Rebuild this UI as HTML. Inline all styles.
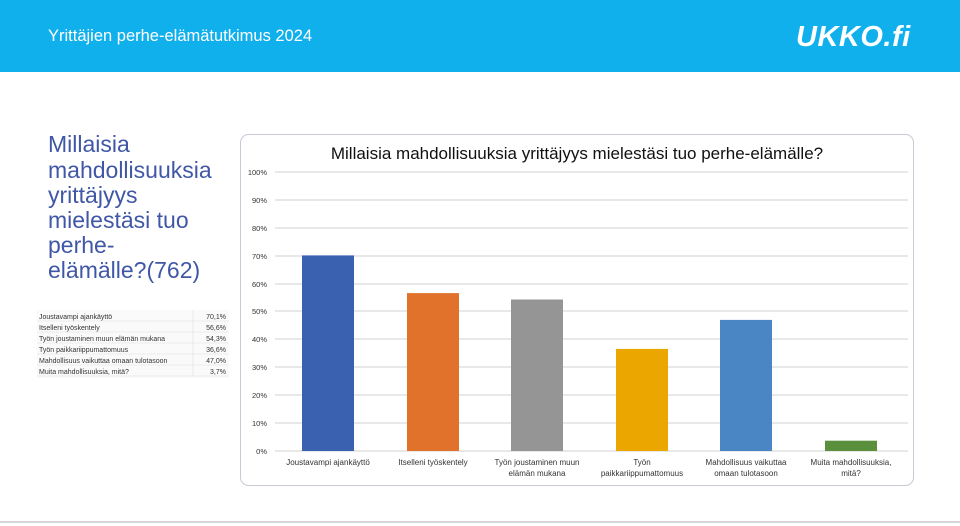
<!DOCTYPE html>
<html><head><meta charset="utf-8"><style>
html,body{margin:0;padding:0;background:#fff;}
svg{display:block;font-family:"Liberation Sans",sans-serif;}
</style></head><body>
<svg width="960" height="526" viewBox="0 0 960 526" xmlns="http://www.w3.org/2000/svg">
<rect x="0" y="0" width="960" height="72" fill="#0fb0ec"/>
<text x="48" y="41" font-size="16.5" fill="#fff">Yrittäjien perhe-elämätutkimus 2024</text>
<text x="796" y="46" font-size="29" font-weight="bold" font-style="italic" fill="#fff" letter-spacing="0.5">UKKO.fi</text>
<line x1="0" y1="522" x2="960" y2="522" stroke="#c8c8d0" stroke-width="1.5"/>
<g font-size="23" fill="#3f57a6">
<text x="48" y="152">Millaisia</text>
<text x="48" y="178">mahdollisuuksia</text>
<text x="48" y="203">yrittäjyys</text>
<text x="48" y="228">mielestäsi tuo</text>
<text x="48" y="253">perhe-</text>
<text x="48" y="278">elämälle?(762)</text>
</g>
<g font-size="7" fill="#333">
<rect x="37" y="310" width="192" height="68" fill="#fafafa"/>
<g stroke="#ddd" stroke-width="0.6">
<line x1="37" y1="321" x2="229" y2="321"/><line x1="37" y1="332" x2="229" y2="332"/><line x1="37" y1="343" x2="229" y2="343"/><line x1="37" y1="354" x2="229" y2="354"/><line x1="37" y1="365" x2="229" y2="365"/><line x1="37" y1="376" x2="229" y2="376"/><line x1="193" y1="310" x2="193" y2="376"/>
</g>
<text x="39" y="319">Joustavampi ajankäyttö</text><text x="226" y="319" text-anchor="end">70,1%</text>
<text x="39" y="330">Itselleni työskentely</text><text x="226" y="330" text-anchor="end">56,6%</text>
<text x="39" y="341">Työn joustaminen muun elämän mukana</text><text x="226" y="341" text-anchor="end">54,3%</text>
<text x="39" y="352">Työn paikkariippumattomuus</text><text x="226" y="352" text-anchor="end">36,6%</text>
<text x="39" y="363">Mahdollisuus vaikuttaa omaan tulotasoon</text><text x="226" y="363" text-anchor="end">47,0%</text>
<text x="39" y="374">Muita mahdollisuuksia, mitä?</text><text x="226" y="374" text-anchor="end">3,7%</text>
</g>
<rect x="240.5" y="134.5" width="673" height="351" rx="8" fill="#fff" stroke="#c9c9d6" stroke-width="1"/>
<text x="577" y="159" font-size="17" text-anchor="middle" fill="#111">Millaisia mahdollisuuksia yrittäjyys mielestäsi tuo perhe-elämälle?</text>
<g stroke="#d2d2d2" stroke-width="1">
<line x1="275" y1="172" x2="908" y2="172"/><line x1="275" y1="200" x2="908" y2="200"/><line x1="275" y1="228" x2="908" y2="228"/><line x1="275" y1="256" x2="908" y2="256"/><line x1="275" y1="284" x2="908" y2="284"/><line x1="275" y1="311" x2="908" y2="311"/><line x1="275" y1="339" x2="908" y2="339"/><line x1="275" y1="367" x2="908" y2="367"/><line x1="275" y1="395" x2="908" y2="395"/><line x1="275" y1="423" x2="908" y2="423"/><line x1="275" y1="451" x2="908" y2="451"/>
</g>
<g font-size="7.5" fill="#333" text-anchor="end">
<text x="267" y="175">100%</text><text x="267" y="203">90%</text><text x="267" y="231">80%</text><text x="267" y="259">70%</text><text x="267" y="287">60%</text><text x="267" y="314">50%</text><text x="267" y="342">40%</text><text x="267" y="370">30%</text><text x="267" y="398">20%</text><text x="267" y="426">10%</text><text x="267" y="454">0%</text>
</g>
<rect x="302" y="255.4" width="52" height="195.6" fill="#3a61b0"/>
<rect x="407" y="293.1" width="52" height="157.9" fill="#e0722b"/>
<rect x="511" y="299.5" width="52" height="151.5" fill="#959595"/>
<rect x="616" y="348.9" width="52" height="102.1" fill="#eba700"/>
<rect x="720" y="319.9" width="52" height="131.1" fill="#4b86c4"/>
<rect x="825" y="440.7" width="52" height="10.3" fill="#5a8f3c"/>
<g font-size="8" fill="#333" text-anchor="middle">
<text x="328" y="465">Joustavampi ajankäyttö</text>
<text x="433" y="465">Itselleni työskentely</text>
<text x="537" y="465">Työn joustaminen muun</text><text x="537" y="476">elämän mukana</text>
<text x="642" y="465">Työn</text><text x="642" y="476">paikkariippumattomuus</text>
<text x="746" y="465">Mahdollisuus vaikuttaa</text><text x="746" y="476">omaan tulotasoon</text>
<text x="851" y="465">Muita mahdollisuuksia,</text><text x="851" y="476">mitä?</text>
</g>
</svg>
</body></html>
